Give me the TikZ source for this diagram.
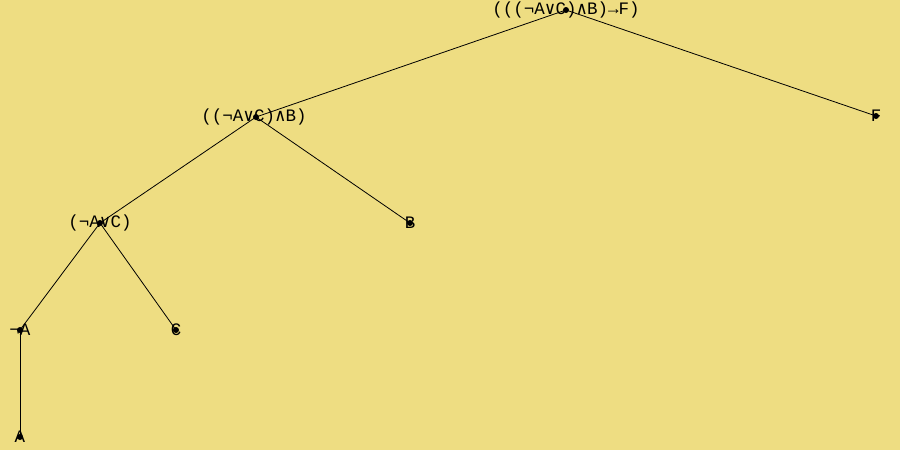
\documentclass[tikz,border=0pt]{standalone}
\usepackage{fontspec}
\newfontfamily\treefont{Liberation Mono}
\newfontfamily\symfont{DejaVu Sans Mono}
\newcommand{\myand}{{\symfont ∧}}
\newcommand{\myor}{{\symfont ∨}}
\definecolor{bg}{HTML}{EEDD82}
\begin{document}
\begin{tikzpicture}[x=1pt,y=-1pt,
  lbl/.style={font=\treefont\fontsize{17.5}{17.5}\selectfont, inner sep=0pt, anchor=center},
  dot/.style={circle, fill=black, inner sep=0pt, minimum size=6pt},
  edge/.style={draw=black, line width=0.8pt}]
\fill[bg] (0,0) rectangle (900,450);
\useasboundingbox (0,0) rectangle (900,450);
% labels
\node[lbl] (t1) at (566,10) {(((¬A\myor C)\myand B)→F)};
\node[lbl] (t2) at (254,117) {((¬A\myor C)\myand B)};
\node[lbl] (t3) at (100,223) {(¬A\myor C)};
\node[lbl] (t4) at (410,223) {B};
\node[lbl] (t5) at (876,116) {F};
\node[lbl] (t6) at (20,330) {¬A};
\node[lbl] (t7) at (176,330) {C};
\node[lbl] (t8) at (20,437) {A};
% dots
\node[dot] (n1) at (566,10) {};
\node[dot] (n2) at (256,117) {};
\node[dot] (n3) at (100,223) {};
\node[dot] (n4) at (410,223) {};
\node[dot] (n5) at (876,116) {};
\node[dot] (n6) at (20,330) {};
\node[dot] (n7) at (176,330) {};
\node[dot] (n8) at (20,437) {};
% edges
\draw[edge] (n1.center) -- (n2.center);
\draw[edge] (n1.center) -- (n5.center);
\draw[edge] (n2.center) -- (n3.center);
\draw[edge] (n2.center) -- (n4.center);
\draw[edge] (n3.center) -- (n6.center);
\draw[edge] (n3.center) -- (n7.center);
\draw[edge] (n6.center) -- (n8.center);
\end{tikzpicture}
\end{document}
